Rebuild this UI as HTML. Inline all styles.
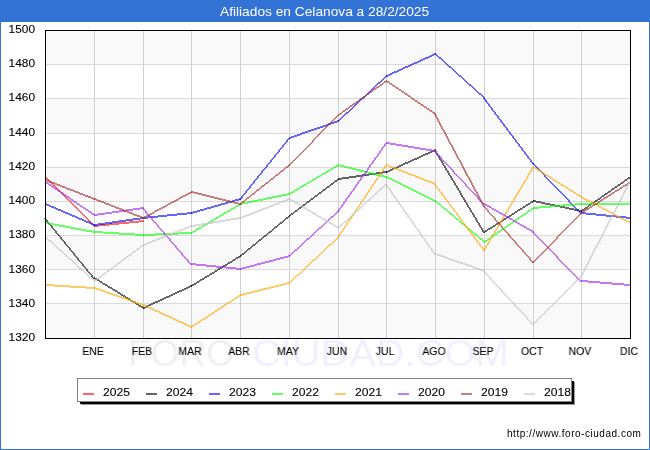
<!DOCTYPE html>
<html><head><meta charset="utf-8"><style>
html,body{margin:0;padding:0;}
body{width:650px;height:450px;position:relative;overflow:hidden;background:#fff;font-family:"Liberation Sans",sans-serif;}
.t,.yl,.xl,.lgt{will-change:transform;}
.yl,.xl,.lgt{-webkit-text-stroke:0.1px #000;}
#frame{position:absolute;left:0;top:0;width:648px;height:448px;border:1px solid #3373d6;}
#tbar{position:absolute;left:0;top:0;width:650px;height:22px;background:#3373d6;}
.t{position:absolute;white-space:nowrap;transform-origin:0 0;}
#title{left:220.0px;top:1.8px;color:#fff;font-size:13px;line-height:20px;transform:scaleX(1.056);}
.wm{font-size:37px;line-height:54px;}
#wm1{left:128.0px;top:327.4px;color:#f0f0f0;transform:scaleX(1.0);}
#wm2{left:252.3px;top:327.4px;color:#f0f0fe;transform:scaleX(1.076);}
svg{position:absolute;left:0;top:0;}
.yl{position:absolute;left:-24.799999999999997px;width:60px;text-align:right;font-size:11px;line-height:16px;color:#000;transform:scaleX(1.08);transform-origin:100% 0;}
.xl{position:absolute;top:343.0px;width:60px;text-align:center;font-size:11px;line-height:16px;color:#000;transform:scaleX(0.95);}
#lgs2{position:absolute;left:81px;top:382px;width:494px;height:23px;background:#9a9a9a;}
#lgs{position:absolute;left:80px;top:381px;width:494px;height:23px;background:#000;}
#lgb{position:absolute;left:77px;top:378px;width:493px;height:22px;background:#fff;border:1px solid #808080;}
.lgl{position:absolute;top:393px;width:11px;height:2px;opacity:0.6;}
.lgt{position:absolute;top:384.0px;font-size:11px;line-height:16px;color:#000;transform:scaleX(1.1);transform-origin:0 0;}
#url{left:507.0px;top:426.0px;font-size:10px;line-height:16px;color:#000;letter-spacing:0.53px;transform:scaleX(1.0);}
</style></head><body>
<div id="frame"></div>
<div id="tbar"></div>
<div id="title" class="t">Afiliados en Celanova a 28/2/2025</div>
<div id="wm1" class="t wm">FORO</div>
<div id="wm2" class="t wm">CIUDAD.COM</div>
<svg width="650" height="450" viewBox="0 0 650 450">
<rect x="45" y="303.26" width="585" height="34.14" fill="#f9f9f9"/>
<rect x="45" y="234.98" width="585" height="34.14" fill="#f9f9f9"/>
<rect x="45" y="166.70" width="585" height="34.14" fill="#f9f9f9"/>
<rect x="45" y="98.42" width="585" height="34.14" fill="#f9f9f9"/>
<rect x="45" y="30.14" width="585" height="34.14" fill="#f9f9f9"/>
<line x1="45" y1="303.5" x2="630" y2="303.5" stroke="#dadada" stroke-width="1"/>
<line x1="45" y1="269.5" x2="630" y2="269.5" stroke="#dadada" stroke-width="1"/>
<line x1="45" y1="235.5" x2="630" y2="235.5" stroke="#dadada" stroke-width="1"/>
<line x1="45" y1="201.5" x2="630" y2="201.5" stroke="#dadada" stroke-width="1"/>
<line x1="45" y1="167.5" x2="630" y2="167.5" stroke="#dadada" stroke-width="1"/>
<line x1="45" y1="133.5" x2="630" y2="133.5" stroke="#dadada" stroke-width="1"/>
<line x1="45" y1="98.5" x2="630" y2="98.5" stroke="#dadada" stroke-width="1"/>
<line x1="45" y1="64.5" x2="630" y2="64.5" stroke="#dadada" stroke-width="1"/>
<line x1="94.5" y1="30" x2="94.5" y2="338" stroke="#d0d0d0" stroke-width="1"/>
<line x1="143.5" y1="30" x2="143.5" y2="338" stroke="#d0d0d0" stroke-width="1"/>
<line x1="191.5" y1="30" x2="191.5" y2="338" stroke="#d0d0d0" stroke-width="1"/>
<line x1="240.5" y1="30" x2="240.5" y2="338" stroke="#d0d0d0" stroke-width="1"/>
<line x1="289.5" y1="30" x2="289.5" y2="338" stroke="#d0d0d0" stroke-width="1"/>
<line x1="338.5" y1="30" x2="338.5" y2="338" stroke="#d0d0d0" stroke-width="1"/>
<line x1="386.5" y1="30" x2="386.5" y2="338" stroke="#d0d0d0" stroke-width="1"/>
<line x1="435.5" y1="30" x2="435.5" y2="338" stroke="#d0d0d0" stroke-width="1"/>
<line x1="484.5" y1="30" x2="484.5" y2="338" stroke="#d0d0d0" stroke-width="1"/>
<line x1="533.5" y1="30" x2="533.5" y2="338" stroke="#d0d0d0" stroke-width="1"/>
<line x1="581.5" y1="30" x2="581.5" y2="338" stroke="#d0d0d0" stroke-width="1"/>
<path d="M45 176h1v1h-1zM45 177h2v1h-2zM46 178h2v1h-2zM47 179h2v1h-2zM48 180h2v1h-2zM49 181h2v1h-2zM50 182h2v1h-2zM51 183h2v1h-2zM52 184h2v1h-2zM53 185h2v1h-2zM54 186h2v1h-2zM55 187h2v1h-2zM56 188h2v1h-2zM57 189h2v1h-2zM58 190h2v1h-2zM59 191h2v1h-2zM60 192h2v1h-2zM61 193h2v1h-2zM62 194h2v1h-2zM63 195h2v1h-2zM64 196h2v1h-2zM65 197h2v1h-2zM66 198h2v1h-2zM67 199h2v1h-2zM68 200h2v1h-2zM69 201h2v1h-2zM70 202h2v1h-2zM71 203h2v1h-2zM72 204h2v1h-2zM73 205h2v1h-2zM74 206h2v1h-2zM75 207h2v1h-2zM76 208h2v1h-2zM77 209h2v1h-2zM78 210h2v1h-2zM79 211h2v1h-2zM80 212h2v1h-2zM81 213h2v1h-2zM82 214h2v1h-2zM83 215h2v1h-2zM84 216h2v1h-2zM85 217h2v1h-2zM86 218h2v1h-2zM87 219h2v1h-2zM88 220h2v1h-2zM89 221h2v1h-2zM90 222h2v1h-2zM91 223h2v1h-2zM92 224h2v1h-2zM93 225h2v1h-2zM94 226h1v1h-1z" fill="#ff0000" fill-opacity="0.6"/>
<path d="M139 220h5v1h-5zM129 221h15v1h-15zM119 222h20v1h-20zM109 223h20v1h-20zM99 224h20v1h-20zM94 225h15v1h-15zM94 226h5v1h-5z" fill="#ff0000" fill-opacity="0.6"/>
<path d="M44 218h2v1h-2zM45 219h2v1h-2zM46 220h2v1h-2zM46 221h2v1h-2zM47 222h2v1h-2zM48 223h2v1h-2zM49 224h2v1h-2zM50 225h2v1h-2zM51 226h2v1h-2zM51 227h2v1h-2zM52 228h2v1h-2zM53 229h2v1h-2zM54 230h2v1h-2zM55 231h2v1h-2zM55 232h2v1h-2zM56 233h2v1h-2zM57 234h2v1h-2zM58 235h2v1h-2zM59 236h2v1h-2zM60 237h2v1h-2zM60 238h2v1h-2zM61 239h2v1h-2zM62 240h2v1h-2zM63 241h2v1h-2zM64 242h2v1h-2zM64 243h2v1h-2zM65 244h2v1h-2zM66 245h2v1h-2zM67 246h2v1h-2zM68 247h2v1h-2zM69 248h2v1h-2zM69 249h2v1h-2zM70 250h2v1h-2zM71 251h2v1h-2zM72 252h2v1h-2zM73 253h2v1h-2zM73 254h2v1h-2zM74 255h2v1h-2zM75 256h2v1h-2zM76 257h2v1h-2zM77 258h2v1h-2zM77 259h2v1h-2zM78 260h2v1h-2zM79 261h2v1h-2zM80 262h2v1h-2zM81 263h2v1h-2zM82 264h2v1h-2zM82 265h2v1h-2zM83 266h2v1h-2zM84 267h2v1h-2zM85 268h2v1h-2zM86 269h2v1h-2zM86 270h2v1h-2zM87 271h2v1h-2zM88 272h2v1h-2zM89 273h2v1h-2zM90 274h2v1h-2zM91 275h2v1h-2zM91 276h2v1h-2zM92 277h2v1h-2zM93 278h2v1h-2z" fill="#000000" fill-opacity="0.6"/>
<path d="M94 277h1v1h-1zM94 278h3v1h-3zM95 279h4v1h-4zM97 280h3v1h-3zM99 281h3v1h-3zM100 282h3v1h-3zM102 283h3v1h-3zM103 284h4v1h-4zM105 285h3v1h-3zM107 286h3v1h-3zM108 287h4v1h-4zM110 288h3v1h-3zM112 289h3v1h-3zM113 290h4v1h-4zM115 291h3v1h-3zM117 292h3v1h-3zM118 293h3v1h-3zM120 294h3v1h-3zM121 295h4v1h-4zM123 296h3v1h-3zM125 297h3v1h-3zM126 298h4v1h-4zM128 299h3v1h-3zM130 300h3v1h-3zM131 301h4v1h-4zM133 302h3v1h-3zM135 303h3v1h-3zM136 304h3v1h-3zM138 305h3v1h-3zM139 306h4v1h-4zM141 307h3v1h-3zM143 308h1v1h-1z" fill="#000000" fill-opacity="0.6"/>
<path d="M190 285h2v1h-2zM188 286h4v1h-4zM186 287h4v1h-4zM184 288h4v1h-4zM182 289h4v1h-4zM179 290h5v1h-5zM177 291h5v1h-5zM175 292h4v1h-4zM173 293h4v1h-4zM171 294h4v1h-4zM169 295h4v1h-4zM166 296h5v1h-5zM164 297h5v1h-5zM162 298h4v1h-4zM160 299h4v1h-4zM158 300h4v1h-4zM155 301h5v1h-5zM153 302h5v1h-5zM151 303h4v1h-4zM149 304h4v1h-4zM147 305h4v1h-4zM145 306h4v1h-4zM143 307h4v1h-4zM143 308h2v1h-2z" fill="#000000" fill-opacity="0.6"/>
<path d="M240 255h1v1h-1zM238 256h3v1h-3zM236 257h4v1h-4zM235 258h3v1h-3zM233 259h3v1h-3zM232 260h3v1h-3zM230 261h3v1h-3zM228 262h4v1h-4zM227 263h3v1h-3zM225 264h3v1h-3zM223 265h4v1h-4zM222 266h3v1h-3zM220 267h3v1h-3zM218 268h4v1h-4zM217 269h3v1h-3zM215 270h3v1h-3zM214 271h3v1h-3zM212 272h3v1h-3zM210 273h4v1h-4zM209 274h3v1h-3zM207 275h3v1h-3zM205 276h4v1h-4zM204 277h3v1h-3zM202 278h3v1h-3zM200 279h4v1h-4zM199 280h3v1h-3zM197 281h3v1h-3zM196 282h3v1h-3zM194 283h3v1h-3zM192 284h4v1h-4zM191 285h3v1h-3zM191 286h1v1h-1z" fill="#000000" fill-opacity="0.6"/>
<path d="M289 215h1v1h-1zM288 216h2v1h-2zM286 217h3v1h-3zM285 218h3v1h-3zM284 219h2v1h-2zM283 220h2v1h-2zM282 221h2v1h-2zM280 222h3v1h-3zM279 223h3v1h-3zM278 224h2v1h-2zM277 225h2v1h-2zM275 226h3v1h-3zM274 227h3v1h-3zM273 228h2v1h-2zM272 229h2v1h-2zM271 230h2v1h-2zM269 231h3v1h-3zM268 232h3v1h-3zM267 233h2v1h-2zM266 234h2v1h-2zM264 235h3v1h-3zM263 236h3v1h-3zM262 237h2v1h-2zM261 238h2v1h-2zM259 239h3v1h-3zM258 240h3v1h-3zM257 241h2v1h-2zM256 242h2v1h-2zM255 243h2v1h-2zM253 244h3v1h-3zM252 245h3v1h-3zM251 246h2v1h-2zM250 247h2v1h-2zM248 248h3v1h-3zM247 249h3v1h-3zM246 250h2v1h-2zM245 251h2v1h-2zM244 252h2v1h-2zM242 253h3v1h-3zM241 254h3v1h-3zM240 255h2v1h-2zM240 256h1v1h-1z" fill="#000000" fill-opacity="0.6"/>
<path d="M338 178h1v1h-1zM337 179h2v1h-2zM335 180h3v1h-3zM334 181h3v1h-3zM333 182h2v1h-2zM331 183h3v1h-3zM330 184h3v1h-3zM329 185h2v1h-2zM327 186h3v1h-3zM326 187h3v1h-3zM325 188h2v1h-2zM323 189h3v1h-3zM322 190h3v1h-3zM321 191h2v1h-2zM319 192h3v1h-3zM318 193h3v1h-3zM317 194h2v1h-2zM315 195h3v1h-3zM314 196h3v1h-3zM313 197h2v1h-2zM311 198h3v1h-3zM310 199h3v1h-3zM309 200h2v1h-2zM307 201h3v1h-3zM306 202h3v1h-3zM305 203h2v1h-2zM303 204h3v1h-3zM302 205h3v1h-3zM301 206h2v1h-2zM299 207h3v1h-3zM298 208h3v1h-3zM297 209h2v1h-2zM295 210h3v1h-3zM294 211h3v1h-3zM293 212h2v1h-2zM291 213h3v1h-3zM290 214h3v1h-3zM289 215h2v1h-2zM289 216h1v1h-1z" fill="#000000" fill-opacity="0.6"/>
<path d="M383 171h4v1h-4zM376 172h11v1h-11zM369 173h14v1h-14zM362 174h14v1h-14zM356 175h13v1h-13zM349 176h13v1h-13zM342 177h14v1h-14zM338 178h11v1h-11zM338 179h4v1h-4z" fill="#000000" fill-opacity="0.6"/>
<path d="M434 149h2v1h-2zM432 150h4v1h-4zM430 151h4v1h-4zM428 152h4v1h-4zM425 153h5v1h-5zM423 154h5v1h-5zM421 155h4v1h-4zM419 156h4v1h-4zM417 157h4v1h-4zM414 158h5v1h-5zM412 159h5v1h-5zM410 160h4v1h-4zM408 161h4v1h-4zM405 162h5v1h-5zM403 163h5v1h-5zM401 164h4v1h-4zM399 165h4v1h-4zM397 166h4v1h-4zM394 167h5v1h-5zM392 168h5v1h-5zM390 169h4v1h-4zM388 170h4v1h-4zM386 171h4v1h-4zM386 172h2v1h-2z" fill="#000000" fill-opacity="0.6"/>
<path d="M434 150h2v1h-2zM435 151h2v1h-2zM435 152h2v1h-2zM436 153h2v1h-2zM436 154h2v1h-2zM437 155h2v1h-2zM438 156h2v1h-2zM438 157h2v1h-2zM439 158h2v1h-2zM439 159h2v1h-2zM440 160h2v1h-2zM441 161h2v1h-2zM441 162h2v1h-2zM442 163h2v1h-2zM442 164h2v1h-2zM443 165h2v1h-2zM444 166h2v1h-2zM444 167h2v1h-2zM445 168h2v1h-2zM445 169h2v1h-2zM446 170h2v1h-2zM447 171h2v1h-2zM447 172h2v1h-2zM448 173h2v1h-2zM448 174h2v1h-2zM449 175h2v1h-2zM450 176h2v1h-2zM450 177h2v1h-2zM451 178h2v1h-2zM451 179h2v1h-2zM452 180h2v1h-2zM453 181h2v1h-2zM453 182h2v1h-2zM454 183h2v1h-2zM454 184h2v1h-2zM455 185h2v1h-2zM456 186h2v1h-2zM456 187h2v1h-2zM457 188h2v1h-2zM457 189h2v1h-2zM458 190h2v1h-2zM459 191h2v1h-2zM459 192h2v1h-2zM460 193h2v1h-2zM460 194h2v1h-2zM461 195h2v1h-2zM461 196h2v1h-2zM462 197h2v1h-2zM463 198h2v1h-2zM463 199h2v1h-2zM464 200h2v1h-2zM464 201h2v1h-2zM465 202h2v1h-2zM466 203h2v1h-2zM466 204h2v1h-2zM467 205h2v1h-2zM467 206h2v1h-2zM468 207h2v1h-2zM469 208h2v1h-2zM469 209h2v1h-2zM470 210h2v1h-2zM470 211h2v1h-2zM471 212h2v1h-2zM472 213h2v1h-2zM472 214h2v1h-2zM473 215h2v1h-2zM473 216h2v1h-2zM474 217h2v1h-2zM475 218h2v1h-2zM475 219h2v1h-2zM476 220h2v1h-2zM476 221h2v1h-2zM477 222h2v1h-2zM478 223h2v1h-2zM478 224h2v1h-2zM479 225h2v1h-2zM479 226h2v1h-2zM480 227h2v1h-2zM481 228h2v1h-2zM481 229h2v1h-2zM482 230h2v1h-2zM482 231h2v1h-2zM483 232h2v1h-2z" fill="#000000" fill-opacity="0.6"/>
<path d="M533 200h1v1h-1zM531 201h3v1h-3zM530 202h3v1h-3zM528 203h3v1h-3zM526 204h4v1h-4zM525 205h3v1h-3zM523 206h3v1h-3zM522 207h3v1h-3zM520 208h3v1h-3zM518 209h4v1h-4zM517 210h3v1h-3zM515 211h3v1h-3zM514 212h3v1h-3zM512 213h3v1h-3zM511 214h3v1h-3zM509 215h3v1h-3zM507 216h4v1h-4zM506 217h3v1h-3zM504 218h3v1h-3zM503 219h3v1h-3zM501 220h3v1h-3zM500 221h3v1h-3zM498 222h3v1h-3zM496 223h4v1h-4zM495 224h3v1h-3zM493 225h3v1h-3zM492 226h3v1h-3zM490 227h3v1h-3zM488 228h4v1h-4zM487 229h3v1h-3zM485 230h3v1h-3zM484 231h3v1h-3zM484 232h1v1h-1z" fill="#000000" fill-opacity="0.6"/>
<path d="M533 200h3v1h-3zM533 201h8v1h-8zM536 202h9v1h-9zM541 203h9v1h-9zM545 204h10v1h-10zM550 205h10v1h-10zM555 206h10v1h-10zM560 207h9v1h-9zM565 208h9v1h-9zM569 209h10v1h-10zM574 210h8v1h-8zM579 211h3v1h-3z" fill="#000000" fill-opacity="0.6"/>
<path d="M630 176h1v1h-1zM628 177h3v1h-3zM627 178h3v1h-3zM625 179h3v1h-3zM624 180h3v1h-3zM623 181h2v1h-2zM621 182h3v1h-3zM620 183h3v1h-3zM618 184h3v1h-3zM617 185h3v1h-3zM615 186h3v1h-3zM614 187h3v1h-3zM612 188h3v1h-3zM611 189h3v1h-3zM610 190h2v1h-2zM608 191h3v1h-3zM607 192h3v1h-3zM605 193h3v1h-3zM604 194h3v1h-3zM602 195h3v1h-3zM601 196h3v1h-3zM600 197h2v1h-2zM598 198h3v1h-3zM597 199h3v1h-3zM595 200h3v1h-3zM594 201h3v1h-3zM592 202h3v1h-3zM591 203h3v1h-3zM589 204h3v1h-3zM588 205h3v1h-3zM587 206h2v1h-2zM585 207h3v1h-3zM584 208h3v1h-3zM582 209h3v1h-3zM581 210h3v1h-3zM581 211h1v1h-1z" fill="#000000" fill-opacity="0.6"/>
<path d="M45 203h2v1h-2zM45 204h4v1h-4zM47 205h4v1h-4zM49 206h5v1h-5zM51 207h5v1h-5zM54 208h4v1h-4zM56 209h5v1h-5zM58 210h5v1h-5zM61 211h4v1h-4zM63 212h5v1h-5zM65 213h5v1h-5zM68 214h4v1h-4zM70 215h5v1h-5zM72 216h5v1h-5zM75 217h4v1h-4zM77 218h5v1h-5zM79 219h5v1h-5zM82 220h4v1h-4zM84 221h5v1h-5zM86 222h5v1h-5zM89 223h4v1h-4zM91 224h4v1h-4zM93 225h2v1h-2z" fill="#0000ff" fill-opacity="0.6"/>
<path d="M140 217h4v1h-4zM133 218h11v1h-11zM126 219h14v1h-14zM119 220h14v1h-14zM112 221h14v1h-14zM105 222h14v1h-14zM98 223h14v1h-14zM94 224h11v1h-11zM94 225h4v1h-4z" fill="#0000ff" fill-opacity="0.6"/>
<path d="M187 212h5v1h-5zM177 213h15v1h-15zM167 214h20v1h-20zM158 215h19v1h-19zM148 216h19v1h-19zM143 217h15v1h-15zM143 218h5v1h-5z" fill="#0000ff" fill-opacity="0.6"/>
<path d="M239 198h2v1h-2zM235 199h6v1h-6zM232 200h7v1h-7zM228 201h7v1h-7zM225 202h7v1h-7zM221 203h7v1h-7zM218 204h7v1h-7zM214 205h7v1h-7zM211 206h7v1h-7zM207 207h7v1h-7zM204 208h7v1h-7zM200 209h7v1h-7zM197 210h7v1h-7zM193 211h7v1h-7zM191 212h6v1h-6zM191 213h2v1h-2z" fill="#0000ff" fill-opacity="0.6"/>
<path d="M288 138h2v1h-2zM287 139h2v1h-2zM286 140h2v1h-2zM286 141h2v1h-2zM285 142h2v1h-2zM284 143h2v1h-2zM283 144h2v1h-2zM282 145h2v1h-2zM282 146h2v1h-2zM281 147h2v1h-2zM280 148h2v1h-2zM279 149h2v1h-2zM278 150h2v1h-2zM278 151h2v1h-2zM277 152h2v1h-2zM276 153h2v1h-2zM275 154h2v1h-2zM274 155h2v1h-2zM274 156h2v1h-2zM273 157h2v1h-2zM272 158h2v1h-2zM271 159h2v1h-2zM270 160h2v1h-2zM270 161h2v1h-2zM269 162h2v1h-2zM268 163h2v1h-2zM267 164h2v1h-2zM266 165h2v1h-2zM266 166h2v1h-2zM265 167h2v1h-2zM264 168h2v1h-2zM263 169h2v1h-2zM262 170h2v1h-2zM261 171h2v1h-2zM261 172h2v1h-2zM260 173h2v1h-2zM259 174h2v1h-2zM258 175h2v1h-2zM257 176h2v1h-2zM257 177h2v1h-2zM256 178h2v1h-2zM255 179h2v1h-2zM254 180h2v1h-2zM253 181h2v1h-2zM253 182h2v1h-2zM252 183h2v1h-2zM251 184h2v1h-2zM250 185h2v1h-2zM249 186h2v1h-2zM249 187h2v1h-2zM248 188h2v1h-2zM247 189h2v1h-2zM246 190h2v1h-2zM245 191h2v1h-2zM245 192h2v1h-2zM244 193h2v1h-2zM243 194h2v1h-2zM242 195h2v1h-2zM241 196h2v1h-2zM241 197h2v1h-2zM240 198h2v1h-2zM239 199h2v1h-2z" fill="#0000ff" fill-opacity="0.6"/>
<path d="M337 120h2v1h-2zM334 121h5v1h-5zM331 122h6v1h-6zM328 123h6v1h-6zM326 124h5v1h-5zM323 125h5v1h-5zM320 126h6v1h-6zM317 127h6v1h-6zM314 128h6v1h-6zM311 129h6v1h-6zM308 130h6v1h-6zM305 131h6v1h-6zM302 132h6v1h-6zM300 133h5v1h-5zM297 134h5v1h-5zM294 135h6v1h-6zM291 136h6v1h-6zM289 137h5v1h-5zM289 138h2v1h-2z" fill="#0000ff" fill-opacity="0.6"/>
<path d="M386 75h1v1h-1zM385 76h2v1h-2zM384 77h2v1h-2zM383 78h2v1h-2zM382 79h2v1h-2zM381 80h2v1h-2zM380 81h2v1h-2zM378 82h3v1h-3zM377 83h3v1h-3zM376 84h2v1h-2zM375 85h2v1h-2zM374 86h2v1h-2zM373 87h2v1h-2zM372 88h2v1h-2zM371 89h2v1h-2zM370 90h2v1h-2zM369 91h2v1h-2zM368 92h2v1h-2zM367 93h2v1h-2zM366 94h2v1h-2zM365 95h2v1h-2zM364 96h2v1h-2zM362 97h3v1h-3zM361 98h3v1h-3zM360 99h2v1h-2zM359 100h2v1h-2zM358 101h2v1h-2zM357 102h2v1h-2zM356 103h2v1h-2zM355 104h2v1h-2zM354 105h2v1h-2zM353 106h2v1h-2zM352 107h2v1h-2zM351 108h2v1h-2zM350 109h2v1h-2zM349 110h2v1h-2zM348 111h2v1h-2zM346 112h3v1h-3zM345 113h3v1h-3zM344 114h2v1h-2zM343 115h2v1h-2zM342 116h2v1h-2zM341 117h2v1h-2zM340 118h2v1h-2zM339 119h2v1h-2zM338 120h2v1h-2zM338 121h1v1h-1z" fill="#0000ff" fill-opacity="0.6"/>
<path d="M434 53h2v1h-2zM432 54h4v1h-4zM430 55h4v1h-4zM428 56h4v1h-4zM425 57h5v1h-5zM423 58h5v1h-5zM421 59h4v1h-4zM419 60h4v1h-4zM417 61h4v1h-4zM414 62h5v1h-5zM412 63h5v1h-5zM410 64h4v1h-4zM408 65h4v1h-4zM405 66h5v1h-5zM403 67h5v1h-5zM401 68h4v1h-4zM399 69h4v1h-4zM397 70h4v1h-4zM394 71h5v1h-5zM392 72h5v1h-5zM390 73h4v1h-4zM388 74h4v1h-4zM386 75h4v1h-4zM386 76h2v1h-2z" fill="#0000ff" fill-opacity="0.6"/>
<path d="M435 53h1v1h-1zM435 54h2v1h-2zM436 55h2v1h-2zM437 56h2v1h-2zM438 57h3v1h-3zM439 58h3v1h-3zM441 59h2v1h-2zM442 60h2v1h-2zM443 61h2v1h-2zM444 62h2v1h-2zM445 63h2v1h-2zM446 64h2v1h-2zM447 65h2v1h-2zM448 66h3v1h-3zM449 67h3v1h-3zM451 68h2v1h-2zM452 69h2v1h-2zM453 70h2v1h-2zM454 71h2v1h-2zM455 72h2v1h-2zM456 73h2v1h-2zM457 74h2v1h-2zM458 75h3v1h-3zM459 76h3v1h-3zM461 77h2v1h-2zM462 78h2v1h-2zM463 79h2v1h-2zM464 80h2v1h-2zM465 81h2v1h-2zM466 82h2v1h-2zM467 83h2v1h-2zM468 84h3v1h-3zM469 85h3v1h-3zM471 86h2v1h-2zM472 87h2v1h-2zM473 88h2v1h-2zM474 89h2v1h-2zM475 90h2v1h-2zM476 91h2v1h-2zM477 92h2v1h-2zM478 93h3v1h-3zM479 94h3v1h-3zM481 95h2v1h-2zM482 96h2v1h-2zM483 97h2v1h-2zM484 98h1v1h-1z" fill="#0000ff" fill-opacity="0.6"/>
<path d="M483 98h2v1h-2zM484 99h2v1h-2zM485 100h2v1h-2zM485 101h2v1h-2zM486 102h2v1h-2zM487 103h2v1h-2zM488 104h2v1h-2zM488 105h2v1h-2zM489 106h2v1h-2zM490 107h2v1h-2zM491 108h2v1h-2zM491 109h2v1h-2zM492 110h2v1h-2zM493 111h2v1h-2zM494 112h2v1h-2zM494 113h2v1h-2zM495 114h2v1h-2zM496 115h2v1h-2zM497 116h2v1h-2zM497 117h2v1h-2zM498 118h2v1h-2zM499 119h2v1h-2zM500 120h2v1h-2zM500 121h2v1h-2zM501 122h2v1h-2zM502 123h2v1h-2zM503 124h2v1h-2zM503 125h2v1h-2zM504 126h2v1h-2zM505 127h2v1h-2zM506 128h2v1h-2zM506 129h2v1h-2zM507 130h2v1h-2zM508 131h2v1h-2zM509 132h2v1h-2zM509 133h2v1h-2zM510 134h2v1h-2zM511 135h2v1h-2zM512 136h2v1h-2zM512 137h2v1h-2zM513 138h2v1h-2zM514 139h2v1h-2zM515 140h2v1h-2zM515 141h2v1h-2zM516 142h2v1h-2zM517 143h2v1h-2zM518 144h2v1h-2zM518 145h2v1h-2zM519 146h2v1h-2zM520 147h2v1h-2zM521 148h2v1h-2zM521 149h2v1h-2zM522 150h2v1h-2zM523 151h2v1h-2zM524 152h2v1h-2zM524 153h2v1h-2zM525 154h2v1h-2zM526 155h2v1h-2zM527 156h2v1h-2zM527 157h2v1h-2zM528 158h2v1h-2zM529 159h2v1h-2zM530 160h2v1h-2zM530 161h2v1h-2zM531 162h2v1h-2zM532 163h2v1h-2z" fill="#0000ff" fill-opacity="0.6"/>
<path d="M532 163h2v1h-2zM533 164h2v1h-2zM534 165h2v1h-2zM535 166h2v1h-2zM536 167h2v1h-2zM537 168h2v1h-2zM538 169h2v1h-2zM539 170h2v1h-2zM540 171h2v1h-2zM541 172h2v1h-2zM542 173h2v1h-2zM543 174h2v1h-2zM544 175h2v1h-2zM544 176h2v1h-2zM545 177h2v1h-2zM546 178h2v1h-2zM547 179h2v1h-2zM548 180h2v1h-2zM549 181h2v1h-2zM550 182h2v1h-2zM551 183h2v1h-2zM552 184h2v1h-2zM553 185h2v1h-2zM554 186h2v1h-2zM555 187h2v1h-2zM556 188h2v1h-2zM557 189h2v1h-2zM558 190h2v1h-2zM559 191h2v1h-2zM560 192h2v1h-2zM561 193h2v1h-2zM562 194h2v1h-2zM563 195h2v1h-2zM564 196h2v1h-2zM565 197h2v1h-2zM566 198h2v1h-2zM567 199h2v1h-2zM568 200h2v1h-2zM568 201h2v1h-2zM569 202h2v1h-2zM570 203h2v1h-2zM571 204h2v1h-2zM572 205h2v1h-2zM573 206h2v1h-2zM574 207h2v1h-2zM575 208h2v1h-2zM576 209h2v1h-2zM577 210h2v1h-2zM578 211h2v1h-2zM579 212h2v1h-2zM580 213h2v1h-2z" fill="#0000ff" fill-opacity="0.6"/>
<path d="M581 212h5v1h-5zM581 213h15v1h-15zM586 214h20v1h-20zM596 215h20v1h-20zM606 216h20v1h-20zM616 217h15v1h-15zM626 218h5v1h-5z" fill="#0000ff" fill-opacity="0.6"/>
<path d="M45 222h3v1h-3zM45 223h9v1h-9zM48 224h11v1h-11zM54 225h11v1h-11zM59 226h11v1h-11zM65 227h10v1h-10zM70 228h11v1h-11zM75 229h11v1h-11zM81 230h11v1h-11zM86 231h9v1h-9zM92 232h3v1h-3z" fill="#00ff00" fill-opacity="0.6"/>
<path d="M94 231h9v1h-9zM94 232h25v1h-25zM103 233h32v1h-32zM119 234h25v1h-25zM135 235h9v1h-9z" fill="#00ff00" fill-opacity="0.6"/>
<path d="M179 232h13v1h-13zM155 233h37v1h-37zM143 234h36v1h-36zM143 235h12v1h-12z" fill="#00ff00" fill-opacity="0.6"/>
<path d="M240 203h1v1h-1zM238 204h3v1h-3zM236 205h4v1h-4zM235 206h3v1h-3zM233 207h3v1h-3zM231 208h4v1h-4zM230 209h3v1h-3zM228 210h3v1h-3zM226 211h4v1h-4zM224 212h4v1h-4zM223 213h3v1h-3zM221 214h3v1h-3zM219 215h4v1h-4zM218 216h3v1h-3zM216 217h3v1h-3zM214 218h4v1h-4zM213 219h3v1h-3zM211 220h3v1h-3zM209 221h4v1h-4zM208 222h3v1h-3zM206 223h3v1h-3zM204 224h4v1h-4zM202 225h4v1h-4zM201 226h3v1h-3zM199 227h3v1h-3zM197 228h4v1h-4zM196 229h3v1h-3zM194 230h3v1h-3zM192 231h4v1h-4zM191 232h3v1h-3zM191 233h1v1h-1z" fill="#00ff00" fill-opacity="0.6"/>
<path d="M287 193h3v1h-3zM282 194h8v1h-8zM277 195h10v1h-10zM272 196h10v1h-10zM267 197h10v1h-10zM263 198h9v1h-9zM258 199h9v1h-9zM253 200h10v1h-10zM248 201h10v1h-10zM243 202h10v1h-10zM240 203h8v1h-8zM240 204h3v1h-3z" fill="#00ff00" fill-opacity="0.6"/>
<path d="M338 164h1v1h-1zM336 165h3v1h-3zM334 166h4v1h-4zM333 167h3v1h-3zM331 168h3v1h-3zM329 169h4v1h-4zM328 170h3v1h-3zM326 171h3v1h-3zM324 172h4v1h-4zM322 173h4v1h-4zM321 174h3v1h-3zM319 175h3v1h-3zM317 176h4v1h-4zM316 177h3v1h-3zM314 178h3v1h-3zM312 179h4v1h-4zM311 180h3v1h-3zM309 181h3v1h-3zM307 182h4v1h-4zM306 183h3v1h-3zM304 184h3v1h-3zM302 185h4v1h-4zM300 186h4v1h-4zM299 187h3v1h-3zM297 188h3v1h-3zM295 189h4v1h-4zM294 190h3v1h-3zM292 191h3v1h-3zM290 192h4v1h-4zM289 193h3v1h-3zM289 194h1v1h-1z" fill="#00ff00" fill-opacity="0.6"/>
<path d="M338 164h2v1h-2zM338 165h6v1h-6zM340 166h8v1h-8zM344 167h8v1h-8zM348 168h8v1h-8zM352 169h8v1h-8zM356 170h8v1h-8zM360 171h8v1h-8zM364 172h8v1h-8zM368 173h8v1h-8zM372 174h8v1h-8zM376 175h8v1h-8zM380 176h7v1h-7zM384 177h3v1h-3z" fill="#00ff00" fill-opacity="0.6"/>
<path d="M386 176h2v1h-2zM386 177h4v1h-4zM388 178h4v1h-4zM390 179h4v1h-4zM392 180h4v1h-4zM394 181h4v1h-4zM396 182h4v1h-4zM398 183h4v1h-4zM400 184h4v1h-4zM402 185h4v1h-4zM404 186h4v1h-4zM406 187h4v1h-4zM408 188h4v1h-4zM410 189h4v1h-4zM412 190h4v1h-4zM414 191h4v1h-4zM416 192h4v1h-4zM418 193h4v1h-4zM420 194h4v1h-4zM422 195h4v1h-4zM424 196h4v1h-4zM426 197h4v1h-4zM428 198h4v1h-4zM430 199h4v1h-4zM432 200h4v1h-4zM434 201h2v1h-2z" fill="#00ff00" fill-opacity="0.6"/>
<path d="M435 200h1v1h-1zM435 201h2v1h-2zM436 202h2v1h-2zM437 203h3v1h-3zM438 204h3v1h-3zM440 205h2v1h-2zM441 206h2v1h-2zM442 207h2v1h-2zM443 208h3v1h-3zM444 209h3v1h-3zM446 210h2v1h-2zM447 211h2v1h-2zM448 212h2v1h-2zM449 213h3v1h-3zM450 214h3v1h-3zM452 215h2v1h-2zM453 216h2v1h-2zM454 217h2v1h-2zM455 218h3v1h-3zM456 219h3v1h-3zM458 220h2v1h-2zM459 221h2v1h-2zM460 222h2v1h-2zM461 223h3v1h-3zM462 224h3v1h-3zM464 225h2v1h-2zM465 226h2v1h-2zM466 227h2v1h-2zM467 228h3v1h-3zM468 229h3v1h-3zM470 230h2v1h-2zM471 231h2v1h-2zM472 232h2v1h-2zM473 233h3v1h-3zM474 234h3v1h-3zM476 235h2v1h-2zM477 236h2v1h-2zM478 237h2v1h-2zM479 238h3v1h-3zM480 239h3v1h-3zM482 240h2v1h-2zM483 241h2v1h-2zM484 242h1v1h-1z" fill="#00ff00" fill-opacity="0.6"/>
<path d="M533 207h1v1h-1zM531 208h3v1h-3zM530 209h3v1h-3zM528 210h3v1h-3zM527 211h3v1h-3zM526 212h2v1h-2zM524 213h3v1h-3zM523 214h3v1h-3zM521 215h3v1h-3zM520 216h3v1h-3zM518 217h3v1h-3zM517 218h3v1h-3zM515 219h3v1h-3zM514 220h3v1h-3zM513 221h2v1h-2zM511 222h3v1h-3zM510 223h3v1h-3zM508 224h3v1h-3zM507 225h3v1h-3zM505 226h3v1h-3zM504 227h3v1h-3zM503 228h2v1h-2zM501 229h3v1h-3zM500 230h3v1h-3zM498 231h3v1h-3zM497 232h3v1h-3zM495 233h3v1h-3zM494 234h3v1h-3zM492 235h3v1h-3zM491 236h3v1h-3zM490 237h2v1h-2zM488 238h3v1h-3zM487 239h3v1h-3zM485 240h3v1h-3zM484 241h3v1h-3zM484 242h1v1h-1z" fill="#00ff00" fill-opacity="0.6"/>
<path d="M575 203h7v1h-7zM563 204h19v1h-19zM551 205h24v1h-24zM539 206h24v1h-24zM533 207h18v1h-18zM533 208h6v1h-6z" fill="#00ff00" fill-opacity="0.6"/>
<path d="M581 203h50v1h-50zM581 204h50v1h-50z" fill="#00ff00" fill-opacity="0.6"/>
<path d="M45 284h9v1h-9zM45 285h25v1h-25zM54 286h32v1h-32zM70 287h25v1h-25zM86 288h9v1h-9z" fill="#ffa500" fill-opacity="0.6"/>
<path d="M94 287h2v1h-2zM94 288h5v1h-5zM96 289h6v1h-6zM99 290h6v1h-6zM102 291h5v1h-5zM105 292h5v1h-5zM107 293h6v1h-6zM110 294h6v1h-6zM113 295h6v1h-6zM116 296h6v1h-6zM119 297h6v1h-6zM122 298h6v1h-6zM125 299h6v1h-6zM128 300h5v1h-5zM131 301h5v1h-5zM133 302h6v1h-6zM136 303h6v1h-6zM139 304h5v1h-5zM142 305h2v1h-2z" fill="#ffa500" fill-opacity="0.6"/>
<path d="M143 304h2v1h-2zM143 305h4v1h-4zM145 306h4v1h-4zM147 307h4v1h-4zM149 308h4v1h-4zM151 309h4v1h-4zM153 310h5v1h-5zM155 311h5v1h-5zM158 312h4v1h-4zM160 313h4v1h-4zM162 314h4v1h-4zM164 315h5v1h-5zM166 316h5v1h-5zM169 317h4v1h-4zM171 318h4v1h-4zM173 319h4v1h-4zM175 320h4v1h-4zM177 321h5v1h-5zM179 322h5v1h-5zM182 323h4v1h-4zM184 324h4v1h-4zM186 325h4v1h-4zM188 326h4v1h-4zM190 327h2v1h-2z" fill="#ffa500" fill-opacity="0.6"/>
<path d="M240 294h1v1h-1zM238 295h3v1h-3zM237 296h3v1h-3zM235 297h3v1h-3zM234 298h3v1h-3zM232 299h3v1h-3zM231 300h3v1h-3zM229 301h3v1h-3zM227 302h4v1h-4zM226 303h3v1h-3zM224 304h3v1h-3zM223 305h3v1h-3zM221 306h3v1h-3zM220 307h3v1h-3zM218 308h3v1h-3zM217 309h3v1h-3zM215 310h3v1h-3zM214 311h3v1h-3zM212 312h3v1h-3zM211 313h3v1h-3zM209 314h3v1h-3zM208 315h3v1h-3zM206 316h3v1h-3zM205 317h3v1h-3zM203 318h3v1h-3zM201 319h4v1h-4zM200 320h3v1h-3zM198 321h3v1h-3zM197 322h3v1h-3zM195 323h3v1h-3zM194 324h3v1h-3zM192 325h3v1h-3zM191 326h3v1h-3zM191 327h1v1h-1z" fill="#ffa500" fill-opacity="0.6"/>
<path d="M287 282h3v1h-3zM283 283h7v1h-7zM279 284h8v1h-8zM275 285h8v1h-8zM271 286h8v1h-8zM267 287h8v1h-8zM263 288h8v1h-8zM259 289h8v1h-8zM255 290h8v1h-8zM251 291h8v1h-8zM247 292h8v1h-8zM243 293h8v1h-8zM240 294h7v1h-7zM240 295h3v1h-3z" fill="#ffa500" fill-opacity="0.6"/>
<path d="M338 236h1v1h-1zM337 237h2v1h-2zM336 238h2v1h-2zM335 239h2v1h-2zM334 240h2v1h-2zM333 241h2v1h-2zM332 242h2v1h-2zM331 243h2v1h-2zM329 244h3v1h-3zM328 245h3v1h-3zM327 246h2v1h-2zM326 247h2v1h-2zM325 248h2v1h-2zM324 249h2v1h-2zM323 250h2v1h-2zM322 251h2v1h-2zM321 252h2v1h-2zM320 253h2v1h-2zM319 254h2v1h-2zM318 255h2v1h-2zM317 256h2v1h-2zM316 257h2v1h-2zM315 258h2v1h-2zM313 259h3v1h-3zM312 260h3v1h-3zM311 261h2v1h-2zM310 262h2v1h-2zM309 263h2v1h-2zM308 264h2v1h-2zM307 265h2v1h-2zM306 266h2v1h-2zM305 267h2v1h-2zM304 268h2v1h-2zM303 269h2v1h-2zM302 270h2v1h-2zM301 271h2v1h-2zM300 272h2v1h-2zM299 273h2v1h-2zM297 274h3v1h-3zM296 275h3v1h-3zM295 276h2v1h-2zM294 277h2v1h-2zM293 278h2v1h-2zM292 279h2v1h-2zM291 280h2v1h-2zM290 281h2v1h-2zM289 282h2v1h-2zM289 283h1v1h-1z" fill="#ffa500" fill-opacity="0.6"/>
<path d="M385 165h2v1h-2zM384 166h2v1h-2zM384 167h2v1h-2zM383 168h2v1h-2zM382 169h2v1h-2zM382 170h2v1h-2zM381 171h2v1h-2zM380 172h2v1h-2zM380 173h2v1h-2zM379 174h2v1h-2zM378 175h2v1h-2zM378 176h2v1h-2zM377 177h2v1h-2zM376 178h2v1h-2zM376 179h2v1h-2zM375 180h2v1h-2zM374 181h2v1h-2zM374 182h2v1h-2zM373 183h2v1h-2zM372 184h2v1h-2zM372 185h2v1h-2zM371 186h2v1h-2zM370 187h2v1h-2zM370 188h2v1h-2zM369 189h2v1h-2zM368 190h2v1h-2zM368 191h2v1h-2zM367 192h2v1h-2zM366 193h2v1h-2zM366 194h2v1h-2zM365 195h2v1h-2zM364 196h2v1h-2zM364 197h2v1h-2zM363 198h2v1h-2zM362 199h2v1h-2zM362 200h2v1h-2zM361 201h2v1h-2zM360 202h2v1h-2zM360 203h2v1h-2zM359 204h2v1h-2zM358 205h2v1h-2zM358 206h2v1h-2zM357 207h2v1h-2zM356 208h2v1h-2zM356 209h2v1h-2zM355 210h2v1h-2zM354 211h2v1h-2zM354 212h2v1h-2zM353 213h2v1h-2zM352 214h2v1h-2zM352 215h2v1h-2zM351 216h2v1h-2zM350 217h2v1h-2zM350 218h2v1h-2zM349 219h2v1h-2zM348 220h2v1h-2zM348 221h2v1h-2zM347 222h2v1h-2zM346 223h2v1h-2zM346 224h2v1h-2zM345 225h2v1h-2zM344 226h2v1h-2zM344 227h2v1h-2zM343 228h2v1h-2zM342 229h2v1h-2zM342 230h2v1h-2zM341 231h2v1h-2zM340 232h2v1h-2zM340 233h2v1h-2zM339 234h2v1h-2zM338 235h2v1h-2zM338 236h2v1h-2zM337 237h2v1h-2z" fill="#ffa500" fill-opacity="0.6"/>
<path d="M386 164h2v1h-2zM386 165h4v1h-4zM388 166h5v1h-5zM390 167h6v1h-6zM393 168h5v1h-5zM396 169h5v1h-5zM398 170h5v1h-5zM401 171h5v1h-5zM403 172h5v1h-5zM406 173h5v1h-5zM408 174h6v1h-6zM411 175h5v1h-5zM414 176h5v1h-5zM416 177h5v1h-5zM419 178h5v1h-5zM421 179h5v1h-5zM424 180h5v1h-5zM426 181h6v1h-6zM429 182h5v1h-5zM432 183h4v1h-4zM434 184h2v1h-2z" fill="#ffa500" fill-opacity="0.6"/>
<path d="M434 184h2v1h-2zM435 185h2v1h-2zM435 186h2v1h-2zM436 187h2v1h-2zM437 188h2v1h-2zM438 189h2v1h-2zM438 190h2v1h-2zM439 191h2v1h-2zM440 192h2v1h-2zM441 193h2v1h-2zM441 194h2v1h-2zM442 195h2v1h-2zM443 196h2v1h-2zM444 197h2v1h-2zM444 198h2v1h-2zM445 199h2v1h-2zM446 200h2v1h-2zM447 201h2v1h-2zM447 202h2v1h-2zM448 203h2v1h-2zM449 204h2v1h-2zM450 205h2v1h-2zM450 206h2v1h-2zM451 207h2v1h-2zM452 208h2v1h-2zM453 209h2v1h-2zM453 210h2v1h-2zM454 211h2v1h-2zM455 212h2v1h-2zM456 213h2v1h-2zM456 214h2v1h-2zM457 215h2v1h-2zM458 216h2v1h-2zM459 217h2v1h-2zM459 218h2v1h-2zM460 219h2v1h-2zM461 220h2v1h-2zM461 221h2v1h-2zM462 222h2v1h-2zM463 223h2v1h-2zM464 224h2v1h-2zM464 225h2v1h-2zM465 226h2v1h-2zM466 227h2v1h-2zM467 228h2v1h-2zM467 229h2v1h-2zM468 230h2v1h-2zM469 231h2v1h-2zM470 232h2v1h-2zM470 233h2v1h-2zM471 234h2v1h-2zM472 235h2v1h-2zM473 236h2v1h-2zM473 237h2v1h-2zM474 238h2v1h-2zM475 239h2v1h-2zM476 240h2v1h-2zM476 241h2v1h-2zM477 242h2v1h-2zM478 243h2v1h-2zM479 244h2v1h-2zM479 245h2v1h-2zM480 246h2v1h-2zM481 247h2v1h-2zM482 248h2v1h-2zM482 249h2v1h-2zM483 250h2v1h-2z" fill="#ffa500" fill-opacity="0.6"/>
<path d="M532 167h2v1h-2zM531 168h2v1h-2zM531 169h2v1h-2zM530 170h2v1h-2zM530 171h2v1h-2zM529 172h2v1h-2zM528 173h2v1h-2zM528 174h2v1h-2zM527 175h2v1h-2zM527 176h2v1h-2zM526 177h2v1h-2zM526 178h2v1h-2zM525 179h2v1h-2zM524 180h2v1h-2zM524 181h2v1h-2zM523 182h2v1h-2zM523 183h2v1h-2zM522 184h2v1h-2zM521 185h2v1h-2zM521 186h2v1h-2zM520 187h2v1h-2zM520 188h2v1h-2zM519 189h2v1h-2zM518 190h2v1h-2zM518 191h2v1h-2zM517 192h2v1h-2zM517 193h2v1h-2zM516 194h2v1h-2zM515 195h2v1h-2zM515 196h2v1h-2zM514 197h2v1h-2zM514 198h2v1h-2zM513 199h2v1h-2zM513 200h2v1h-2zM512 201h2v1h-2zM511 202h2v1h-2zM511 203h2v1h-2zM510 204h2v1h-2zM510 205h2v1h-2zM509 206h2v1h-2zM508 207h2v1h-2zM508 208h2v1h-2zM507 209h2v1h-2zM507 210h2v1h-2zM506 211h2v1h-2zM505 212h2v1h-2zM505 213h2v1h-2zM504 214h2v1h-2zM504 215h2v1h-2zM503 216h2v1h-2zM502 217h2v1h-2zM502 218h2v1h-2zM501 219h2v1h-2zM501 220h2v1h-2zM500 221h2v1h-2zM500 222h2v1h-2zM499 223h2v1h-2zM498 224h2v1h-2zM498 225h2v1h-2zM497 226h2v1h-2zM497 227h2v1h-2zM496 228h2v1h-2zM495 229h2v1h-2zM495 230h2v1h-2zM494 231h2v1h-2zM494 232h2v1h-2zM493 233h2v1h-2zM492 234h2v1h-2zM492 235h2v1h-2zM491 236h2v1h-2zM491 237h2v1h-2zM490 238h2v1h-2zM489 239h2v1h-2zM489 240h2v1h-2zM488 241h2v1h-2zM488 242h2v1h-2zM487 243h2v1h-2zM487 244h2v1h-2zM486 245h2v1h-2zM485 246h2v1h-2zM485 247h2v1h-2zM484 248h2v1h-2zM484 249h2v1h-2zM483 250h2v1h-2z" fill="#ffa500" fill-opacity="0.6"/>
<path d="M533 166h1v1h-1zM533 167h3v1h-3zM534 168h3v1h-3zM536 169h3v1h-3zM537 170h4v1h-4zM539 171h3v1h-3zM541 172h3v1h-3zM542 173h3v1h-3zM544 174h3v1h-3zM545 175h4v1h-4zM547 176h3v1h-3zM549 177h3v1h-3zM550 178h3v1h-3zM552 179h3v1h-3zM553 180h4v1h-4zM555 181h3v1h-3zM557 182h3v1h-3zM558 183h3v1h-3zM560 184h3v1h-3zM561 185h4v1h-4zM563 186h3v1h-3zM565 187h3v1h-3zM566 188h3v1h-3zM568 189h3v1h-3zM569 190h4v1h-4zM571 191h3v1h-3zM573 192h3v1h-3zM574 193h3v1h-3zM576 194h3v1h-3zM577 195h4v1h-4zM579 196h3v1h-3zM581 197h1v1h-1z" fill="#ffa500" fill-opacity="0.6"/>
<path d="M581 196h1v1h-1zM581 197h3v1h-3zM582 198h4v1h-4zM584 199h4v1h-4zM586 200h4v1h-4zM588 201h4v1h-4zM590 202h4v1h-4zM592 203h4v1h-4zM594 204h4v1h-4zM596 205h3v1h-3zM598 206h3v1h-3zM599 207h4v1h-4zM601 208h4v1h-4zM603 209h4v1h-4zM605 210h4v1h-4zM607 211h4v1h-4zM609 212h4v1h-4zM611 213h3v1h-3zM613 214h3v1h-3zM614 215h4v1h-4zM616 216h4v1h-4zM618 217h4v1h-4zM620 218h4v1h-4zM622 219h4v1h-4zM624 220h4v1h-4zM626 221h4v1h-4zM628 222h3v1h-3zM630 223h1v1h-1z" fill="#ffa500" fill-opacity="0.6"/>
<path d="M45 181h1v1h-1zM45 182h3v1h-3zM46 183h3v1h-3zM48 184h3v1h-3zM49 185h3v1h-3zM51 186h3v1h-3zM52 187h3v1h-3zM54 188h3v1h-3zM55 189h3v1h-3zM57 190h3v1h-3zM58 191h3v1h-3zM60 192h3v1h-3zM61 193h3v1h-3zM63 194h3v1h-3zM64 195h3v1h-3zM66 196h3v1h-3zM67 197h3v1h-3zM69 198h2v1h-2zM70 199h3v1h-3zM71 200h3v1h-3zM73 201h3v1h-3zM74 202h3v1h-3zM76 203h3v1h-3zM77 204h3v1h-3zM79 205h3v1h-3zM80 206h3v1h-3zM82 207h3v1h-3zM83 208h3v1h-3zM85 209h3v1h-3zM86 210h3v1h-3zM88 211h3v1h-3zM89 212h3v1h-3zM91 213h3v1h-3zM92 214h3v1h-3zM94 215h1v1h-1z" fill="#a020f0" fill-opacity="0.6"/>
<path d="M140 207h4v1h-4zM133 208h11v1h-11zM126 209h14v1h-14zM119 210h14v1h-14zM112 211h14v1h-14zM105 212h14v1h-14zM98 213h14v1h-14zM94 214h11v1h-11zM94 215h4v1h-4z" fill="#a020f0" fill-opacity="0.6"/>
<path d="M142 208h2v1h-2zM143 209h2v1h-2zM144 210h2v1h-2zM145 211h2v1h-2zM145 212h2v1h-2zM146 213h2v1h-2zM147 214h2v1h-2zM148 215h2v1h-2zM149 216h2v1h-2zM150 217h2v1h-2zM151 218h2v1h-2zM151 219h2v1h-2zM152 220h2v1h-2zM153 221h2v1h-2zM154 222h2v1h-2zM155 223h2v1h-2zM156 224h2v1h-2zM157 225h2v1h-2zM157 226h2v1h-2zM158 227h2v1h-2zM159 228h2v1h-2zM160 229h2v1h-2zM161 230h2v1h-2zM162 231h2v1h-2zM163 232h2v1h-2zM163 233h2v1h-2zM164 234h2v1h-2zM165 235h2v1h-2zM166 236h2v1h-2zM167 237h2v1h-2zM168 238h2v1h-2zM169 239h2v1h-2zM169 240h2v1h-2zM170 241h2v1h-2zM171 242h2v1h-2zM172 243h2v1h-2zM173 244h2v1h-2zM174 245h2v1h-2zM175 246h2v1h-2zM175 247h2v1h-2zM176 248h2v1h-2zM177 249h2v1h-2zM178 250h2v1h-2zM179 251h2v1h-2zM180 252h2v1h-2zM181 253h2v1h-2zM181 254h2v1h-2zM182 255h2v1h-2zM183 256h2v1h-2zM184 257h2v1h-2zM185 258h2v1h-2zM186 259h2v1h-2zM187 260h2v1h-2zM187 261h2v1h-2zM188 262h2v1h-2zM189 263h2v1h-2zM190 264h2v1h-2z" fill="#a020f0" fill-opacity="0.6"/>
<path d="M191 263h5v1h-5zM191 264h15v1h-15zM196 265h20v1h-20zM206 266h20v1h-20zM216 267h20v1h-20zM226 268h15v1h-15zM236 269h5v1h-5z" fill="#a020f0" fill-opacity="0.6"/>
<path d="M288 255h2v1h-2zM284 256h6v1h-6zM280 257h8v1h-8zM276 258h8v1h-8zM273 259h7v1h-7zM269 260h7v1h-7zM265 261h8v1h-8zM261 262h8v1h-8zM257 263h8v1h-8zM254 264h7v1h-7zM250 265h7v1h-7zM246 266h8v1h-8zM242 267h8v1h-8zM240 268h6v1h-6zM240 269h2v1h-2z" fill="#a020f0" fill-opacity="0.6"/>
<path d="M338 210h1v1h-1zM337 211h2v1h-2zM336 212h2v1h-2zM335 213h2v1h-2zM334 214h2v1h-2zM333 215h2v1h-2zM331 216h3v1h-3zM330 217h3v1h-3zM329 218h2v1h-2zM328 219h2v1h-2zM327 220h2v1h-2zM326 221h2v1h-2zM325 222h2v1h-2zM324 223h2v1h-2zM323 224h2v1h-2zM322 225h2v1h-2zM321 226h2v1h-2zM319 227h3v1h-3zM318 228h3v1h-3zM317 229h2v1h-2zM316 230h2v1h-2zM315 231h2v1h-2zM314 232h2v1h-2zM313 233h2v1h-2zM312 234h2v1h-2zM311 235h2v1h-2zM310 236h2v1h-2zM309 237h2v1h-2zM307 238h3v1h-3zM306 239h3v1h-3zM305 240h2v1h-2zM304 241h2v1h-2zM303 242h2v1h-2zM302 243h2v1h-2zM301 244h2v1h-2zM300 245h2v1h-2zM299 246h2v1h-2zM298 247h2v1h-2zM297 248h2v1h-2zM295 249h3v1h-3zM294 250h3v1h-3zM293 251h2v1h-2zM292 252h2v1h-2zM291 253h2v1h-2zM290 254h2v1h-2zM289 255h2v1h-2zM289 256h1v1h-1z" fill="#a020f0" fill-opacity="0.6"/>
<path d="M385 143h2v1h-2zM384 144h2v1h-2zM384 145h2v1h-2zM383 146h2v1h-2zM382 147h2v1h-2zM381 148h2v1h-2zM381 149h2v1h-2zM380 150h2v1h-2zM379 151h2v1h-2zM379 152h2v1h-2zM378 153h2v1h-2zM377 154h2v1h-2zM377 155h2v1h-2zM376 156h2v1h-2zM375 157h2v1h-2zM374 158h2v1h-2zM374 159h2v1h-2zM373 160h2v1h-2zM372 161h2v1h-2zM372 162h2v1h-2zM371 163h2v1h-2zM370 164h2v1h-2zM369 165h2v1h-2zM369 166h2v1h-2zM368 167h2v1h-2zM367 168h2v1h-2zM367 169h2v1h-2zM366 170h2v1h-2zM365 171h2v1h-2zM365 172h2v1h-2zM364 173h2v1h-2zM363 174h2v1h-2zM362 175h2v1h-2zM362 176h2v1h-2zM361 177h2v1h-2zM360 178h2v1h-2zM360 179h2v1h-2zM359 180h2v1h-2zM358 181h2v1h-2zM357 182h2v1h-2zM357 183h2v1h-2zM356 184h2v1h-2zM355 185h2v1h-2zM355 186h2v1h-2zM354 187h2v1h-2zM353 188h2v1h-2zM353 189h2v1h-2zM352 190h2v1h-2zM351 191h2v1h-2zM350 192h2v1h-2zM350 193h2v1h-2zM349 194h2v1h-2zM348 195h2v1h-2zM348 196h2v1h-2zM347 197h2v1h-2zM346 198h2v1h-2zM345 199h2v1h-2zM345 200h2v1h-2zM344 201h2v1h-2zM343 202h2v1h-2zM343 203h2v1h-2zM342 204h2v1h-2zM341 205h2v1h-2zM341 206h2v1h-2zM340 207h2v1h-2zM339 208h2v1h-2zM338 209h2v1h-2zM338 210h2v1h-2zM337 211h2v1h-2z" fill="#a020f0" fill-opacity="0.6"/>
<path d="M386 142h4v1h-4zM386 143h10v1h-10zM390 144h12v1h-12zM396 145h12v1h-12zM402 146h12v1h-12zM408 147h12v1h-12zM414 148h12v1h-12zM420 149h12v1h-12zM426 150h10v1h-10zM432 151h4v1h-4z" fill="#a020f0" fill-opacity="0.6"/>
<path d="M434 151h2v1h-2zM435 152h2v1h-2zM436 153h2v1h-2zM437 154h2v1h-2zM438 155h2v1h-2zM439 156h2v1h-2zM440 157h2v1h-2zM440 158h2v1h-2zM441 159h2v1h-2zM442 160h2v1h-2zM443 161h2v1h-2zM444 162h2v1h-2zM445 163h2v1h-2zM446 164h2v1h-2zM447 165h2v1h-2zM448 166h2v1h-2zM449 167h2v1h-2zM450 168h2v1h-2zM451 169h2v1h-2zM452 170h2v1h-2zM452 171h2v1h-2zM453 172h2v1h-2zM454 173h2v1h-2zM455 174h2v1h-2zM456 175h2v1h-2zM457 176h2v1h-2zM458 177h2v1h-2zM459 178h2v1h-2zM460 179h2v1h-2zM461 180h2v1h-2zM462 181h2v1h-2zM463 182h2v1h-2zM464 183h2v1h-2zM465 184h2v1h-2zM465 185h2v1h-2zM466 186h2v1h-2zM467 187h2v1h-2zM468 188h2v1h-2zM469 189h2v1h-2zM470 190h2v1h-2zM471 191h2v1h-2zM472 192h2v1h-2zM473 193h2v1h-2zM474 194h2v1h-2zM475 195h2v1h-2zM476 196h2v1h-2zM477 197h2v1h-2zM477 198h2v1h-2zM478 199h2v1h-2zM479 200h2v1h-2zM480 201h2v1h-2zM481 202h2v1h-2zM482 203h2v1h-2zM483 204h2v1h-2z" fill="#a020f0" fill-opacity="0.6"/>
<path d="M484 203h1v1h-1zM484 204h3v1h-3zM485 205h4v1h-4zM487 206h4v1h-4zM489 207h3v1h-3zM491 208h3v1h-3zM492 209h4v1h-4zM494 210h4v1h-4zM496 211h3v1h-3zM498 212h3v1h-3zM499 213h4v1h-4zM501 214h4v1h-4zM503 215h3v1h-3zM505 216h3v1h-3zM506 217h4v1h-4zM508 218h4v1h-4zM510 219h3v1h-3zM512 220h3v1h-3zM513 221h4v1h-4zM515 222h4v1h-4zM517 223h3v1h-3zM519 224h3v1h-3zM520 225h4v1h-4zM522 226h4v1h-4zM524 227h3v1h-3zM526 228h3v1h-3zM527 229h4v1h-4zM529 230h4v1h-4zM531 231h3v1h-3zM533 232h1v1h-1z" fill="#a020f0" fill-opacity="0.6"/>
<path d="M532 232h2v1h-2zM533 233h2v1h-2zM534 234h2v1h-2zM535 235h2v1h-2zM536 236h2v1h-2zM537 237h2v1h-2zM538 238h2v1h-2zM539 239h2v1h-2zM540 240h2v1h-2zM541 241h2v1h-2zM542 242h2v1h-2zM543 243h2v1h-2zM544 244h2v1h-2zM545 245h2v1h-2zM546 246h2v1h-2zM547 247h2v1h-2zM548 248h2v1h-2zM549 249h2v1h-2zM550 250h2v1h-2zM551 251h2v1h-2zM552 252h2v1h-2zM553 253h2v1h-2zM554 254h2v1h-2zM555 255h2v1h-2zM556 256h2v1h-2zM556 257h2v1h-2zM557 258h2v1h-2zM558 259h2v1h-2zM559 260h2v1h-2zM560 261h2v1h-2zM561 262h2v1h-2zM562 263h2v1h-2zM563 264h2v1h-2zM564 265h2v1h-2zM565 266h2v1h-2zM566 267h2v1h-2zM567 268h2v1h-2zM568 269h2v1h-2zM569 270h2v1h-2zM570 271h2v1h-2zM571 272h2v1h-2zM572 273h2v1h-2zM573 274h2v1h-2zM574 275h2v1h-2zM575 276h2v1h-2zM576 277h2v1h-2zM577 278h2v1h-2zM578 279h2v1h-2zM579 280h2v1h-2zM580 281h2v1h-2z" fill="#a020f0" fill-opacity="0.6"/>
<path d="M581 280h7v1h-7zM581 281h19v1h-19zM588 282h24v1h-24zM600 283h24v1h-24zM612 284h19v1h-19zM624 285h7v1h-7z" fill="#a020f0" fill-opacity="0.6"/>
<path d="M45 179h2v1h-2zM45 180h4v1h-4zM47 181h5v1h-5zM49 182h6v1h-6zM52 183h5v1h-5zM55 184h5v1h-5zM57 185h5v1h-5zM60 186h5v1h-5zM62 187h5v1h-5zM65 188h5v1h-5zM67 189h6v1h-6zM70 190h5v1h-5zM73 191h5v1h-5zM75 192h5v1h-5zM78 193h5v1h-5zM80 194h5v1h-5zM83 195h5v1h-5zM85 196h6v1h-6zM88 197h5v1h-5zM91 198h4v1h-4zM93 199h2v1h-2z" fill="#a52a2a" fill-opacity="0.6"/>
<path d="M94 198h2v1h-2zM94 199h4v1h-4zM96 200h5v1h-5zM98 201h6v1h-6zM101 202h5v1h-5zM104 203h5v1h-5zM106 204h5v1h-5zM109 205h5v1h-5zM111 206h5v1h-5zM114 207h5v1h-5zM116 208h6v1h-6zM119 209h5v1h-5zM122 210h5v1h-5zM124 211h5v1h-5zM127 212h5v1h-5zM129 213h5v1h-5zM132 214h5v1h-5zM134 215h6v1h-6zM137 216h5v1h-5zM140 217h4v1h-4zM142 218h2v1h-2z" fill="#a52a2a" fill-opacity="0.6"/>
<path d="M191 191h1v1h-1zM189 192h3v1h-3zM187 193h4v1h-4zM185 194h4v1h-4zM183 195h4v1h-4zM181 196h4v1h-4zM179 197h4v1h-4zM178 198h3v1h-3zM176 199h3v1h-3zM174 200h4v1h-4zM172 201h4v1h-4zM170 202h4v1h-4zM168 203h4v1h-4zM167 204h3v1h-3zM165 205h3v1h-3zM163 206h4v1h-4zM161 207h4v1h-4zM159 208h4v1h-4zM157 209h4v1h-4zM155 210h4v1h-4zM154 211h3v1h-3zM152 212h3v1h-3zM150 213h4v1h-4zM148 214h4v1h-4zM146 215h4v1h-4zM144 216h4v1h-4zM143 217h3v1h-3zM143 218h1v1h-1z" fill="#a52a2a" fill-opacity="0.6"/>
<path d="M191 191h3v1h-3zM191 192h7v1h-7zM194 193h8v1h-8zM198 194h8v1h-8zM202 195h8v1h-8zM206 196h8v1h-8zM210 197h8v1h-8zM214 198h8v1h-8zM218 199h8v1h-8zM222 200h8v1h-8zM226 201h8v1h-8zM230 202h8v1h-8zM234 203h7v1h-7zM238 204h3v1h-3z" fill="#a52a2a" fill-opacity="0.6"/>
<path d="M289 164h1v1h-1zM288 165h2v1h-2zM286 166h3v1h-3zM285 167h3v1h-3zM284 168h2v1h-2zM283 169h2v1h-2zM281 170h3v1h-3zM280 171h3v1h-3zM279 172h2v1h-2zM278 173h2v1h-2zM276 174h3v1h-3zM275 175h3v1h-3zM274 176h2v1h-2zM273 177h2v1h-2zM271 178h3v1h-3zM270 179h3v1h-3zM269 180h2v1h-2zM268 181h2v1h-2zM266 182h3v1h-3zM265 183h3v1h-3zM264 184h2v1h-2zM262 185h3v1h-3zM261 186h3v1h-3zM260 187h2v1h-2zM259 188h2v1h-2zM257 189h3v1h-3zM256 190h3v1h-3zM255 191h2v1h-2zM254 192h2v1h-2zM252 193h3v1h-3zM251 194h3v1h-3zM250 195h2v1h-2zM249 196h2v1h-2zM247 197h3v1h-3zM246 198h3v1h-3zM245 199h2v1h-2zM244 200h2v1h-2zM242 201h3v1h-3zM241 202h3v1h-3zM240 203h2v1h-2zM240 204h1v1h-1z" fill="#a52a2a" fill-opacity="0.6"/>
<path d="M337 115h2v1h-2zM336 116h2v1h-2zM335 117h2v1h-2zM334 118h2v1h-2zM333 119h2v1h-2zM332 120h2v1h-2zM331 121h2v1h-2zM330 122h2v1h-2zM329 123h2v1h-2zM328 124h2v1h-2zM327 125h2v1h-2zM326 126h2v1h-2zM325 127h2v1h-2zM324 128h2v1h-2zM323 129h2v1h-2zM322 130h2v1h-2zM321 131h2v1h-2zM320 132h2v1h-2zM319 133h2v1h-2zM318 134h2v1h-2zM317 135h2v1h-2zM316 136h2v1h-2zM315 137h2v1h-2zM314 138h2v1h-2zM313 139h2v1h-2zM312 140h2v1h-2zM312 141h2v1h-2zM311 142h2v1h-2zM310 143h2v1h-2zM309 144h2v1h-2zM308 145h2v1h-2zM307 146h2v1h-2zM306 147h2v1h-2zM305 148h2v1h-2zM304 149h2v1h-2zM303 150h2v1h-2zM302 151h2v1h-2zM301 152h2v1h-2zM300 153h2v1h-2zM299 154h2v1h-2zM298 155h2v1h-2zM297 156h2v1h-2zM296 157h2v1h-2zM295 158h2v1h-2zM294 159h2v1h-2zM293 160h2v1h-2zM292 161h2v1h-2zM291 162h2v1h-2zM290 163h2v1h-2zM289 164h2v1h-2zM288 165h2v1h-2z" fill="#a52a2a" fill-opacity="0.6"/>
<path d="M386 80h1v1h-1zM384 81h3v1h-3zM383 82h3v1h-3zM382 83h2v1h-2zM380 84h3v1h-3zM379 85h3v1h-3zM377 86h3v1h-3zM376 87h3v1h-3zM374 88h3v1h-3zM373 89h3v1h-3zM372 90h2v1h-2zM370 91h3v1h-3zM369 92h3v1h-3zM367 93h3v1h-3zM366 94h3v1h-3zM365 95h2v1h-2zM363 96h3v1h-3zM362 97h3v1h-3zM360 98h3v1h-3zM359 99h3v1h-3zM358 100h2v1h-2zM356 101h3v1h-3zM355 102h3v1h-3zM353 103h3v1h-3zM352 104h3v1h-3zM350 105h3v1h-3zM349 106h3v1h-3zM348 107h2v1h-2zM346 108h3v1h-3zM345 109h3v1h-3zM343 110h3v1h-3zM342 111h3v1h-3zM341 112h2v1h-2zM339 113h3v1h-3zM338 114h3v1h-3zM338 115h1v1h-1z" fill="#a52a2a" fill-opacity="0.6"/>
<path d="M386 80h1v1h-1zM386 81h3v1h-3zM387 82h3v1h-3zM389 83h3v1h-3zM390 84h3v1h-3zM392 85h3v1h-3zM393 86h3v1h-3zM395 87h3v1h-3zM396 88h3v1h-3zM398 89h3v1h-3zM399 90h3v1h-3zM401 91h3v1h-3zM402 92h3v1h-3zM404 93h3v1h-3zM405 94h3v1h-3zM407 95h3v1h-3zM408 96h3v1h-3zM410 97h2v1h-2zM411 98h3v1h-3zM412 99h3v1h-3zM414 100h3v1h-3zM415 101h3v1h-3zM417 102h3v1h-3zM418 103h3v1h-3zM420 104h3v1h-3zM421 105h3v1h-3zM423 106h3v1h-3zM424 107h3v1h-3zM426 108h3v1h-3zM427 109h3v1h-3zM429 110h3v1h-3zM430 111h3v1h-3zM432 112h3v1h-3zM433 113h3v1h-3zM435 114h1v1h-1z" fill="#a52a2a" fill-opacity="0.6"/>
<path d="M434 114h2v1h-2zM435 115h2v1h-2zM435 116h2v1h-2zM436 117h2v1h-2zM436 118h2v1h-2zM437 119h2v1h-2zM437 120h2v1h-2zM438 121h2v1h-2zM438 122h2v1h-2zM439 123h2v1h-2zM439 124h2v1h-2zM440 125h2v1h-2zM440 126h2v1h-2zM441 127h2v1h-2zM441 128h2v1h-2zM442 129h2v1h-2zM443 130h2v1h-2zM443 131h2v1h-2zM444 132h2v1h-2zM444 133h2v1h-2zM445 134h2v1h-2zM445 135h2v1h-2zM446 136h2v1h-2zM446 137h2v1h-2zM447 138h2v1h-2zM447 139h2v1h-2zM448 140h2v1h-2zM448 141h2v1h-2zM449 142h2v1h-2zM449 143h2v1h-2zM450 144h2v1h-2zM451 145h2v1h-2zM451 146h2v1h-2zM452 147h2v1h-2zM452 148h2v1h-2zM453 149h2v1h-2zM453 150h2v1h-2zM454 151h2v1h-2zM454 152h2v1h-2zM455 153h2v1h-2zM455 154h2v1h-2zM456 155h2v1h-2zM456 156h2v1h-2zM457 157h2v1h-2zM457 158h2v1h-2zM458 159h2v1h-2zM459 160h2v1h-2zM459 161h2v1h-2zM460 162h2v1h-2zM460 163h2v1h-2zM461 164h2v1h-2zM461 165h2v1h-2zM462 166h2v1h-2zM462 167h2v1h-2zM463 168h2v1h-2zM463 169h2v1h-2zM464 170h2v1h-2zM464 171h2v1h-2zM465 172h2v1h-2zM465 173h2v1h-2zM466 174h2v1h-2zM466 175h2v1h-2zM467 176h2v1h-2zM468 177h2v1h-2zM468 178h2v1h-2zM469 179h2v1h-2zM469 180h2v1h-2zM470 181h2v1h-2zM470 182h2v1h-2zM471 183h2v1h-2zM471 184h2v1h-2zM472 185h2v1h-2zM472 186h2v1h-2zM473 187h2v1h-2zM473 188h2v1h-2zM474 189h2v1h-2zM474 190h2v1h-2zM475 191h2v1h-2zM476 192h2v1h-2zM476 193h2v1h-2zM477 194h2v1h-2zM477 195h2v1h-2zM478 196h2v1h-2zM478 197h2v1h-2zM479 198h2v1h-2zM479 199h2v1h-2zM480 200h2v1h-2zM480 201h2v1h-2zM481 202h2v1h-2zM481 203h2v1h-2zM482 204h2v1h-2zM482 205h2v1h-2zM483 206h2v1h-2z" fill="#a52a2a" fill-opacity="0.6"/>
<path d="M483 206h2v1h-2zM484 207h2v1h-2zM485 208h2v1h-2zM486 209h2v1h-2zM487 210h2v1h-2zM487 211h2v1h-2zM488 212h2v1h-2zM489 213h2v1h-2zM490 214h2v1h-2zM491 215h2v1h-2zM492 216h2v1h-2zM493 217h2v1h-2zM494 218h2v1h-2zM494 219h2v1h-2zM495 220h2v1h-2zM496 221h2v1h-2zM497 222h2v1h-2zM498 223h2v1h-2zM499 224h2v1h-2zM500 225h2v1h-2zM501 226h2v1h-2zM501 227h2v1h-2zM502 228h2v1h-2zM503 229h2v1h-2zM504 230h2v1h-2zM505 231h2v1h-2zM506 232h2v1h-2zM507 233h2v1h-2zM508 234h2v1h-2zM508 235h2v1h-2zM509 236h2v1h-2zM510 237h2v1h-2zM511 238h2v1h-2zM512 239h2v1h-2zM513 240h2v1h-2zM514 241h2v1h-2zM515 242h2v1h-2zM515 243h2v1h-2zM516 244h2v1h-2zM517 245h2v1h-2zM518 246h2v1h-2zM519 247h2v1h-2zM520 248h2v1h-2zM521 249h2v1h-2zM522 250h2v1h-2zM522 251h2v1h-2zM523 252h2v1h-2zM524 253h2v1h-2zM525 254h2v1h-2zM526 255h2v1h-2zM527 256h2v1h-2zM528 257h2v1h-2zM529 258h2v1h-2zM529 259h2v1h-2zM530 260h2v1h-2zM531 261h2v1h-2zM532 262h2v1h-2z" fill="#a52a2a" fill-opacity="0.6"/>
<path d="M580 213h2v1h-2zM579 214h2v1h-2zM578 215h2v1h-2zM577 216h2v1h-2zM576 217h2v1h-2zM575 218h2v1h-2zM574 219h2v1h-2zM573 220h2v1h-2zM572 221h2v1h-2zM571 222h2v1h-2zM570 223h2v1h-2zM569 224h2v1h-2zM568 225h2v1h-2zM567 226h2v1h-2zM566 227h2v1h-2zM565 228h2v1h-2zM564 229h2v1h-2zM563 230h2v1h-2zM562 231h2v1h-2zM561 232h2v1h-2zM560 233h2v1h-2zM559 234h2v1h-2zM558 235h2v1h-2zM557 236h2v1h-2zM556 237h2v1h-2zM556 238h2v1h-2zM555 239h2v1h-2zM554 240h2v1h-2zM553 241h2v1h-2zM552 242h2v1h-2zM551 243h2v1h-2zM550 244h2v1h-2zM549 245h2v1h-2zM548 246h2v1h-2zM547 247h2v1h-2zM546 248h2v1h-2zM545 249h2v1h-2zM544 250h2v1h-2zM543 251h2v1h-2zM542 252h2v1h-2zM541 253h2v1h-2zM540 254h2v1h-2zM539 255h2v1h-2zM538 256h2v1h-2zM537 257h2v1h-2zM536 258h2v1h-2zM535 259h2v1h-2zM534 260h2v1h-2zM533 261h2v1h-2zM532 262h2v1h-2z" fill="#a52a2a" fill-opacity="0.6"/>
<path d="M630 181h1v1h-1zM628 182h3v1h-3zM627 183h3v1h-3zM625 184h3v1h-3zM623 185h4v1h-4zM622 186h3v1h-3zM620 187h3v1h-3zM619 188h3v1h-3zM617 189h3v1h-3zM615 190h4v1h-4zM614 191h3v1h-3zM612 192h3v1h-3zM611 193h3v1h-3zM609 194h3v1h-3zM608 195h3v1h-3zM606 196h3v1h-3zM604 197h4v1h-4zM603 198h3v1h-3zM601 199h3v1h-3zM600 200h3v1h-3zM598 201h3v1h-3zM597 202h3v1h-3zM595 203h3v1h-3zM593 204h4v1h-4zM592 205h3v1h-3zM590 206h3v1h-3zM589 207h3v1h-3zM587 208h3v1h-3zM585 209h4v1h-4zM584 210h3v1h-3zM582 211h3v1h-3zM581 212h3v1h-3zM581 213h1v1h-1z" fill="#a52a2a" fill-opacity="0.6"/>
<path d="M45 236h1v1h-1zM45 237h2v1h-2zM46 238h2v1h-2zM47 239h2v1h-2zM48 240h3v1h-3zM49 241h3v1h-3zM51 242h2v1h-2zM52 243h2v1h-2zM53 244h2v1h-2zM54 245h2v1h-2zM55 246h2v1h-2zM56 247h2v1h-2zM57 248h2v1h-2zM58 249h3v1h-3zM59 250h3v1h-3zM61 251h2v1h-2zM62 252h2v1h-2zM63 253h2v1h-2zM64 254h2v1h-2zM65 255h2v1h-2zM66 256h2v1h-2zM67 257h2v1h-2zM68 258h3v1h-3zM69 259h3v1h-3zM71 260h2v1h-2zM72 261h2v1h-2zM73 262h2v1h-2zM74 263h2v1h-2zM75 264h2v1h-2zM76 265h2v1h-2zM77 266h2v1h-2zM78 267h3v1h-3zM79 268h3v1h-3zM81 269h2v1h-2zM82 270h2v1h-2zM83 271h2v1h-2zM84 272h2v1h-2zM85 273h2v1h-2zM86 274h2v1h-2zM87 275h2v1h-2zM88 276h3v1h-3zM89 277h3v1h-3zM91 278h2v1h-2zM92 279h2v1h-2zM93 280h2v1h-2zM94 281h1v1h-1z" fill="#c0c0c0" fill-opacity="0.6"/>
<path d="M143 244h1v1h-1zM141 245h3v1h-3zM140 246h3v1h-3zM139 247h2v1h-2zM137 248h3v1h-3zM136 249h3v1h-3zM135 250h2v1h-2zM133 251h3v1h-3zM132 252h3v1h-3zM131 253h2v1h-2zM129 254h3v1h-3zM128 255h3v1h-3zM126 256h3v1h-3zM125 257h3v1h-3zM124 258h2v1h-2zM122 259h3v1h-3zM121 260h3v1h-3zM120 261h2v1h-2zM118 262h3v1h-3zM117 263h3v1h-3zM116 264h2v1h-2zM114 265h3v1h-3zM113 266h3v1h-3zM112 267h2v1h-2zM110 268h3v1h-3zM109 269h3v1h-3zM107 270h3v1h-3zM106 271h3v1h-3zM105 272h2v1h-2zM103 273h3v1h-3zM102 274h3v1h-3zM101 275h2v1h-2zM99 276h3v1h-3zM98 277h3v1h-3zM97 278h2v1h-2zM95 279h3v1h-3zM94 280h3v1h-3zM94 281h1v1h-1z" fill="#c0c0c0" fill-opacity="0.6"/>
<path d="M190 225h2v1h-2zM188 226h4v1h-4zM185 227h5v1h-5zM183 228h5v1h-5zM180 229h5v1h-5zM178 230h5v1h-5zM175 231h5v1h-5zM173 232h5v1h-5zM170 233h5v1h-5zM167 234h6v1h-6zM165 235h5v1h-5zM162 236h5v1h-5zM160 237h5v1h-5zM157 238h5v1h-5zM155 239h5v1h-5zM152 240h5v1h-5zM150 241h5v1h-5zM147 242h5v1h-5zM145 243h5v1h-5zM143 244h4v1h-4zM143 245h2v1h-2z" fill="#c0c0c0" fill-opacity="0.6"/>
<path d="M237 217h4v1h-4zM231 218h10v1h-10zM225 219h12v1h-12zM219 220h12v1h-12zM213 221h12v1h-12zM207 222h12v1h-12zM201 223h12v1h-12zM195 224h12v1h-12zM191 225h10v1h-10zM191 226h4v1h-4z" fill="#c0c0c0" fill-opacity="0.6"/>
<path d="M288 198h2v1h-2zM286 199h4v1h-4zM283 200h5v1h-5zM280 201h6v1h-6zM278 202h5v1h-5zM275 203h5v1h-5zM273 204h5v1h-5zM270 205h5v1h-5zM268 206h5v1h-5zM265 207h5v1h-5zM262 208h6v1h-6zM260 209h5v1h-5zM257 210h5v1h-5zM255 211h5v1h-5zM252 212h5v1h-5zM250 213h5v1h-5zM247 214h5v1h-5zM244 215h6v1h-6zM242 216h5v1h-5zM240 217h4v1h-4zM240 218h2v1h-2z" fill="#c0c0c0" fill-opacity="0.6"/>
<path d="M289 198h1v1h-1zM289 199h3v1h-3zM290 200h4v1h-4zM292 201h3v1h-3zM294 202h3v1h-3zM295 203h4v1h-4zM297 204h3v1h-3zM299 205h3v1h-3zM300 206h4v1h-4zM302 207h4v1h-4zM304 208h3v1h-3zM306 209h3v1h-3zM307 210h4v1h-4zM309 211h3v1h-3zM311 212h3v1h-3zM312 213h4v1h-4zM314 214h3v1h-3zM316 215h3v1h-3zM317 216h4v1h-4zM319 217h3v1h-3zM321 218h3v1h-3zM322 219h4v1h-4zM324 220h4v1h-4zM326 221h3v1h-3zM328 222h3v1h-3zM329 223h4v1h-4zM331 224h3v1h-3zM333 225h3v1h-3zM334 226h4v1h-4zM336 227h3v1h-3zM338 228h1v1h-1z" fill="#c0c0c0" fill-opacity="0.6"/>
<path d="M386 183h1v1h-1zM385 184h2v1h-2zM384 185h2v1h-2zM383 186h2v1h-2zM382 187h2v1h-2zM380 188h3v1h-3zM379 189h3v1h-3zM378 190h2v1h-2zM377 191h2v1h-2zM376 192h2v1h-2zM375 193h2v1h-2zM374 194h2v1h-2zM373 195h2v1h-2zM372 196h2v1h-2zM371 197h2v1h-2zM370 198h2v1h-2zM368 199h3v1h-3zM367 200h3v1h-3zM366 201h2v1h-2zM365 202h2v1h-2zM364 203h2v1h-2zM363 204h2v1h-2zM362 205h2v1h-2zM361 206h2v1h-2zM360 207h2v1h-2zM359 208h2v1h-2zM358 209h2v1h-2zM356 210h3v1h-3zM355 211h3v1h-3zM354 212h2v1h-2zM353 213h2v1h-2zM352 214h2v1h-2zM351 215h2v1h-2zM350 216h2v1h-2zM349 217h2v1h-2zM348 218h2v1h-2zM347 219h2v1h-2zM346 220h2v1h-2zM344 221h3v1h-3zM343 222h3v1h-3zM342 223h2v1h-2zM341 224h2v1h-2zM340 225h2v1h-2zM339 226h2v1h-2zM338 227h2v1h-2zM338 228h1v1h-1z" fill="#c0c0c0" fill-opacity="0.6"/>
<path d="M385 184h2v1h-2zM386 185h2v1h-2zM386 186h2v1h-2zM387 187h2v1h-2zM388 188h2v1h-2zM389 189h2v1h-2zM389 190h2v1h-2zM390 191h2v1h-2zM391 192h2v1h-2zM391 193h2v1h-2zM392 194h2v1h-2zM393 195h2v1h-2zM393 196h2v1h-2zM394 197h2v1h-2zM395 198h2v1h-2zM396 199h2v1h-2zM396 200h2v1h-2zM397 201h2v1h-2zM398 202h2v1h-2zM398 203h2v1h-2zM399 204h2v1h-2zM400 205h2v1h-2zM400 206h2v1h-2zM401 207h2v1h-2zM402 208h2v1h-2zM403 209h2v1h-2zM403 210h2v1h-2zM404 211h2v1h-2zM405 212h2v1h-2zM405 213h2v1h-2zM406 214h2v1h-2zM407 215h2v1h-2zM407 216h2v1h-2zM408 217h2v1h-2zM409 218h2v1h-2zM410 219h2v1h-2zM410 220h2v1h-2zM411 221h2v1h-2zM412 222h2v1h-2zM412 223h2v1h-2zM413 224h2v1h-2zM414 225h2v1h-2zM414 226h2v1h-2zM415 227h2v1h-2zM416 228h2v1h-2zM417 229h2v1h-2zM417 230h2v1h-2zM418 231h2v1h-2zM419 232h2v1h-2zM419 233h2v1h-2zM420 234h2v1h-2zM421 235h2v1h-2zM421 236h2v1h-2zM422 237h2v1h-2zM423 238h2v1h-2zM424 239h2v1h-2zM424 240h2v1h-2zM425 241h2v1h-2zM426 242h2v1h-2zM426 243h2v1h-2zM427 244h2v1h-2zM428 245h2v1h-2zM428 246h2v1h-2zM429 247h2v1h-2zM430 248h2v1h-2zM431 249h2v1h-2zM431 250h2v1h-2zM432 251h2v1h-2zM433 252h2v1h-2zM433 253h2v1h-2zM434 254h2v1h-2z" fill="#c0c0c0" fill-opacity="0.6"/>
<path d="M435 253h2v1h-2zM435 254h5v1h-5zM437 255h6v1h-6zM440 256h6v1h-6zM443 257h5v1h-5zM446 258h5v1h-5zM448 259h6v1h-6zM451 260h6v1h-6zM454 261h6v1h-6zM457 262h6v1h-6zM460 263h6v1h-6zM463 264h6v1h-6zM466 265h6v1h-6zM469 266h5v1h-5zM472 267h5v1h-5zM474 268h6v1h-6zM477 269h6v1h-6zM480 270h5v1h-5zM483 271h2v1h-2z" fill="#c0c0c0" fill-opacity="0.6"/>
<path d="M483 271h2v1h-2zM484 272h2v1h-2zM485 273h2v1h-2zM486 274h2v1h-2zM487 275h2v1h-2zM488 276h2v1h-2zM489 277h2v1h-2zM489 278h2v1h-2zM490 279h2v1h-2zM491 280h2v1h-2zM492 281h2v1h-2zM493 282h2v1h-2zM494 283h2v1h-2zM495 284h2v1h-2zM496 285h2v1h-2zM497 286h2v1h-2zM498 287h2v1h-2zM499 288h2v1h-2zM500 289h2v1h-2zM501 290h2v1h-2zM501 291h2v1h-2zM502 292h2v1h-2zM503 293h2v1h-2zM504 294h2v1h-2zM505 295h2v1h-2zM506 296h2v1h-2zM507 297h2v1h-2zM508 298h2v1h-2zM509 299h2v1h-2zM510 300h2v1h-2zM511 301h2v1h-2zM512 302h2v1h-2zM513 303h2v1h-2zM514 304h2v1h-2zM514 305h2v1h-2zM515 306h2v1h-2zM516 307h2v1h-2zM517 308h2v1h-2zM518 309h2v1h-2zM519 310h2v1h-2zM520 311h2v1h-2zM521 312h2v1h-2zM522 313h2v1h-2zM523 314h2v1h-2zM524 315h2v1h-2zM525 316h2v1h-2zM526 317h2v1h-2zM526 318h2v1h-2zM527 319h2v1h-2zM528 320h2v1h-2zM529 321h2v1h-2zM530 322h2v1h-2zM531 323h2v1h-2zM532 324h2v1h-2z" fill="#c0c0c0" fill-opacity="0.6"/>
<path d="M581 275h1v1h-1zM580 276h2v1h-2zM579 277h2v1h-2zM578 278h2v1h-2zM577 279h2v1h-2zM576 280h2v1h-2zM575 281h2v1h-2zM574 282h2v1h-2zM573 283h2v1h-2zM572 284h2v1h-2zM571 285h2v1h-2zM570 286h2v1h-2zM569 287h2v1h-2zM568 288h2v1h-2zM567 289h2v1h-2zM566 290h2v1h-2zM565 291h2v1h-2zM564 292h2v1h-2zM563 293h2v1h-2zM562 294h2v1h-2zM561 295h2v1h-2zM560 296h2v1h-2zM559 297h2v1h-2zM558 298h2v1h-2zM557 299h2v1h-2zM556 300h2v1h-2zM555 301h2v1h-2zM554 302h2v1h-2zM553 303h2v1h-2zM552 304h2v1h-2zM551 305h2v1h-2zM550 306h2v1h-2zM549 307h2v1h-2zM548 308h2v1h-2zM547 309h2v1h-2zM546 310h2v1h-2zM545 311h2v1h-2zM544 312h2v1h-2zM543 313h2v1h-2zM542 314h2v1h-2zM541 315h2v1h-2zM540 316h2v1h-2zM539 317h2v1h-2zM538 318h2v1h-2zM537 319h2v1h-2zM536 320h2v1h-2zM535 321h2v1h-2zM534 322h2v1h-2zM533 323h2v1h-2zM533 324h1v1h-1z" fill="#c0c0c0" fill-opacity="0.6"/>
<path d="M629 181h2v1h-2zM628 182h2v1h-2zM628 183h2v1h-2zM627 184h2v1h-2zM627 185h2v1h-2zM626 186h2v1h-2zM626 187h2v1h-2zM625 188h2v1h-2zM625 189h2v1h-2zM624 190h2v1h-2zM624 191h2v1h-2zM623 192h2v1h-2zM623 193h2v1h-2zM622 194h2v1h-2zM622 195h2v1h-2zM621 196h2v1h-2zM621 197h2v1h-2zM620 198h2v1h-2zM620 199h2v1h-2zM619 200h2v1h-2zM619 201h2v1h-2zM618 202h2v1h-2zM618 203h2v1h-2zM617 204h2v1h-2zM617 205h2v1h-2zM616 206h2v1h-2zM616 207h2v1h-2zM615 208h2v1h-2zM615 209h2v1h-2zM614 210h2v1h-2zM614 211h2v1h-2zM613 212h2v1h-2zM612 213h2v1h-2zM612 214h2v1h-2zM611 215h2v1h-2zM611 216h2v1h-2zM610 217h2v1h-2zM610 218h2v1h-2zM609 219h2v1h-2zM609 220h2v1h-2zM608 221h2v1h-2zM608 222h2v1h-2zM607 223h2v1h-2zM607 224h2v1h-2zM606 225h2v1h-2zM606 226h2v1h-2zM605 227h2v1h-2zM605 228h2v1h-2zM604 229h2v1h-2zM604 230h2v1h-2zM603 231h2v1h-2zM603 232h2v1h-2zM602 233h2v1h-2zM602 234h2v1h-2zM601 235h2v1h-2zM601 236h2v1h-2zM600 237h2v1h-2zM600 238h2v1h-2zM599 239h2v1h-2zM599 240h2v1h-2zM598 241h2v1h-2zM598 242h2v1h-2zM597 243h2v1h-2zM597 244h2v1h-2zM596 245h2v1h-2zM595 246h2v1h-2zM595 247h2v1h-2zM594 248h2v1h-2zM594 249h2v1h-2zM593 250h2v1h-2zM593 251h2v1h-2zM592 252h2v1h-2zM592 253h2v1h-2zM591 254h2v1h-2zM591 255h2v1h-2zM590 256h2v1h-2zM590 257h2v1h-2zM589 258h2v1h-2zM589 259h2v1h-2zM588 260h2v1h-2zM588 261h2v1h-2zM587 262h2v1h-2zM587 263h2v1h-2zM586 264h2v1h-2zM586 265h2v1h-2zM585 266h2v1h-2zM585 267h2v1h-2zM584 268h2v1h-2zM584 269h2v1h-2zM583 270h2v1h-2zM583 271h2v1h-2zM582 272h2v1h-2zM582 273h2v1h-2zM581 274h2v1h-2zM581 275h2v1h-2zM580 276h2v1h-2z" fill="#c0c0c0" fill-opacity="0.6"/>
<rect x="45.5" y="30.5" width="585" height="308" fill="none" stroke="#000" stroke-width="1"/>
</svg>
<div class="yl" style="top:329.00px">1320</div><div class="yl" style="top:294.77px">1340</div><div class="yl" style="top:260.53px">1360</div><div class="yl" style="top:226.30px">1380</div><div class="yl" style="top:192.07px">1400</div><div class="yl" style="top:157.84px">1420</div><div class="yl" style="top:123.60px">1440</div><div class="yl" style="top:89.37px">1460</div><div class="yl" style="top:55.14px">1480</div><div class="yl" style="top:20.90px">1500</div>
<div class="xl" style="left:63.00px">ENE</div><div class="xl" style="left:112.00px">FEB</div><div class="xl" style="left:160.00px">MAR</div><div class="xl" style="left:209.00px">ABR</div><div class="xl" style="left:258.00px">MAY</div><div class="xl" style="left:307.00px">JUN</div><div class="xl" style="left:355.00px">JUL</div><div class="xl" style="left:404.00px">AGO</div><div class="xl" style="left:453.00px">SEP</div><div class="xl" style="left:502.00px">OCT</div><div class="xl" style="left:550.00px">NOV</div><div class="xl" style="left:599.00px">DIC</div>
<div id="lgs2"></div><div id="lgs"></div><div id="lgb"></div>
<div class="lgl" style="left:83px;background:#ff0000"></div><div class="lgt" style="left:102.50px">2025</div><div class="lgl" style="left:146px;background:#000000"></div><div class="lgt" style="left:165.50px">2024</div><div class="lgl" style="left:209px;background:#0000ff"></div><div class="lgt" style="left:228.50px">2023</div><div class="lgl" style="left:272px;background:#00ff00"></div><div class="lgt" style="left:291.50px">2022</div><div class="lgl" style="left:335px;background:#ffa500"></div><div class="lgt" style="left:354.50px">2021</div><div class="lgl" style="left:398px;background:#a020f0"></div><div class="lgt" style="left:417.50px">2020</div><div class="lgl" style="left:461px;background:#a52a2a"></div><div class="lgt" style="left:480.50px">2019</div><div class="lgl" style="left:524px;background:#c0c0c0"></div><div class="lgt" style="left:543.50px">2018</div>
<div id="url" class="t">http://www.foro-ciudad.com</div>
</body></html>
